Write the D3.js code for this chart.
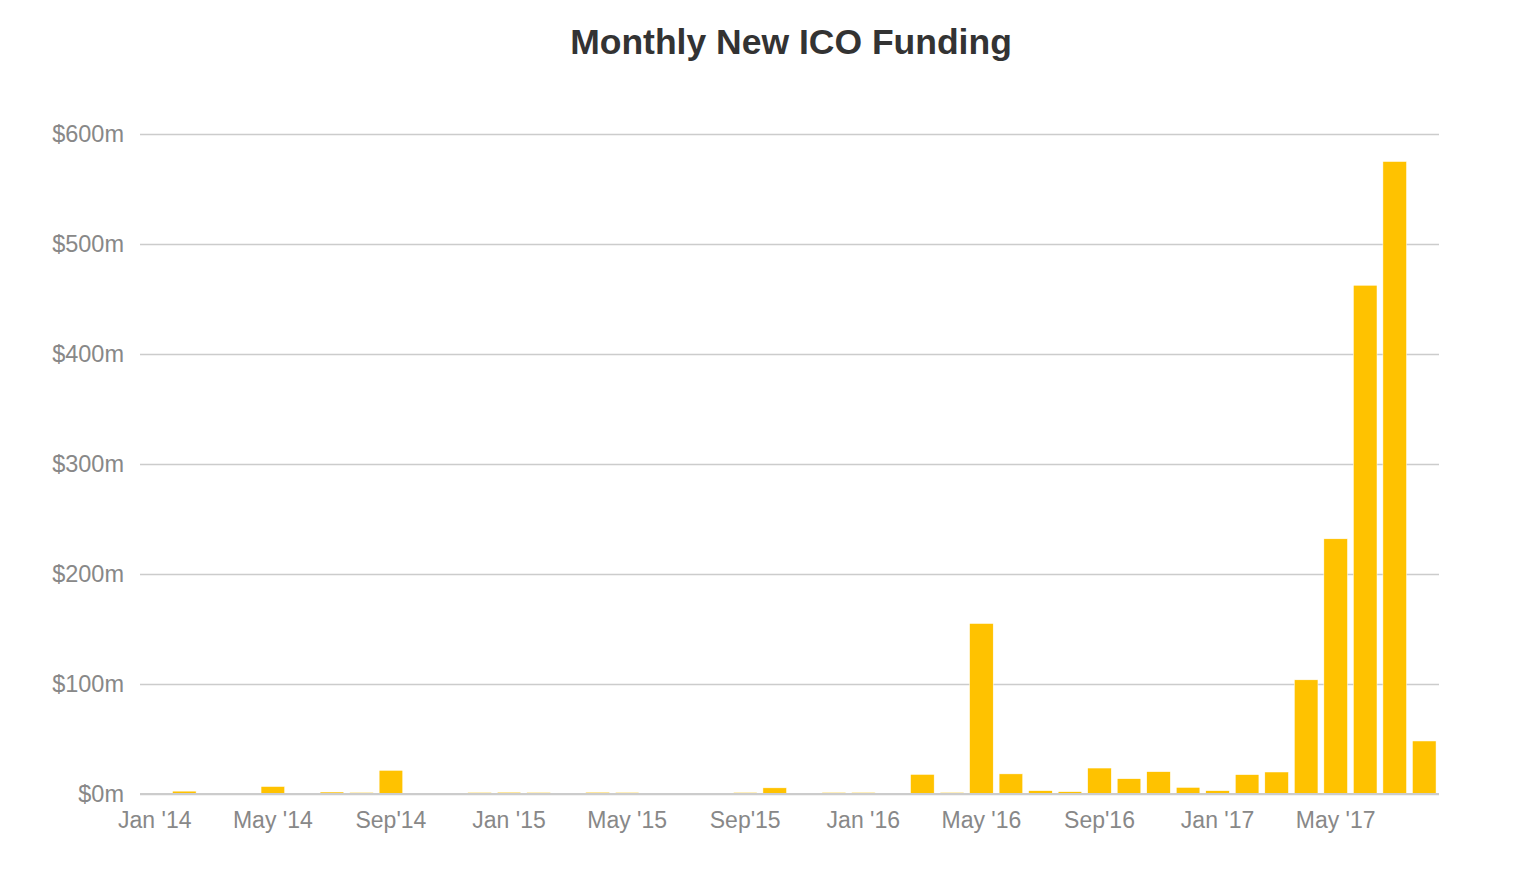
<!DOCTYPE html>
<html>
<head>
<meta charset="utf-8">
<script src="https://cdn.jsdelivr.net/npm/d3@7"></script>
<style>
  body { margin: 0; background: #fff; }
  text { font-family: "Liberation Sans", Arial, Helvetica, sans-serif; }
</style>
</head>
<body>
<div id="container"></div>
<script>
/* CONSTANTS AND GLOBALS */
const width = 1520,
  height = 878,
  margin = { top: 134, bottom: 84, left: 140, right: 81 };

/* DATA */
// one entry per month, Jan 2014 .. Aug 2017
const months = [
  "2014-01","2014-02","2014-03","2014-04","2014-05","2014-06","2014-07","2014-08","2014-09","2014-10","2014-11","2014-12",
  "2015-01","2015-02","2015-03","2015-04","2015-05","2015-06","2015-07","2015-08","2015-09","2015-10","2015-11","2015-12",
  "2016-01","2016-02","2016-03","2016-04","2016-05","2016-06","2016-07","2016-08","2016-09","2016-10","2016-11","2016-12",
  "2017-01","2017-02","2017-03","2017-04","2017-05","2017-06","2017-07","2017-08"
];
// funding in $m
const funding = [
  0, 2.6, 0, 0, 6.8, 0, 1.8, 1.4, 21.5, 0, 0, 1.4,
  1.6, 1.4, 0, 1.6, 1.4, 0, 0, 0, 1.4, 5.6, 0, 1.4,
  1.4, 0, 17.8, 1.4, 155, 18.3, 3, 2.1, 23.6, 13.9, 20.3, 6,
  3, 17.6, 20, 103.8, 232, 462.5, 575, 48.2
];
// x tick labels (every 4th month)
const tickMonths = ["2014-01","2014-05","2014-09","2015-01","2015-05","2015-09","2016-01","2016-05","2016-09","2017-01","2017-05"];
const tickLabels = ["Jan '14","May '14","Sep'14","Jan '15","May '15","Sep'15","Jan '16","May '16","Sep'16","Jan '17","May '17"];
const yTicks = [0, 100, 200, 300, 400, 500, 600];

const data = months.map((m, i) => ({ month: m, value: funding[i] }));

/* SCALES */
const xScale = d3.scaleBand()
  .domain(months)
  .range([margin.left, width - margin.right])
  .paddingInner(0.2)
  .paddingOuter(0.1);

const yScale = d3.scaleLinear()
  .domain([0, 600])
  .range([height - margin.bottom, margin.top]);

/* HTML ELEMENTS */
const svg = d3.select("#container")
  .append("svg")
  .attr("width", width)
  .attr("height", height);

// title
svg.append("text")
  .attr("x", 791)
  .attr("y", 54)
  .attr("text-anchor", "middle")
  .attr("font-size", 35.5)
  .attr("font-weight", "bold")
  .attr("fill", "#333")
  .text("Monthly New ICO Funding");

// y axis with gridlines
const yAxis = d3.axisLeft(yScale)
  .tickValues(yTicks)
  .tickSize(-(width - margin.left - margin.right))
  .tickPadding(16)
  .tickFormat(d => `$${d}m`);

const yG = svg.append("g")
  .attr("transform", `translate(${margin.left},0)`)
  .call(yAxis);
yG.select(".domain").remove();
yG.selectAll(".tick line").attr("stroke", "#ccc").attr("stroke-width", 1.5);
yG.selectAll(".tick text")
  .attr("font-size", 23.5)
  .attr("fill", "#888")
  .attr("font-family", "Liberation Sans, Arial, sans-serif");

// bars
svg.append("g")
  .selectAll("rect")
  .data(data)
  .join("rect")
  .attr("x", d => xScale(d.month))
  .attr("width", xScale.bandwidth())
  .attr("y", d => yScale(d.value))
  .attr("height", d => yScale(0) - yScale(d.value))
  .attr("fill", "#ffc200")
  .attr("stroke", "#fff")
  .attr("stroke-width", 0.5);

// x axis
const xAxis = d3.axisBottom(xScale)
  .tickValues(tickMonths)
  .tickSize(0)
  .tickPadding(18)
  .tickFormat(d => tickLabels[tickMonths.indexOf(d)]);

const xG = svg.append("g")
  .attr("transform", `translate(0,${height - margin.bottom})`)
  .call(xAxis);
xG.select(".domain")
  .attr("stroke", "#ccc")
  .attr("stroke-width", 2)
  .attr("d", `M${margin.left},0H${width - margin.right}`);
xG.selectAll(".tick text")
  .attr("font-size", 23)
  .attr("fill", "#888")
  .attr("font-family", "Liberation Sans, Arial, sans-serif");
</script>
</body>
</html>
